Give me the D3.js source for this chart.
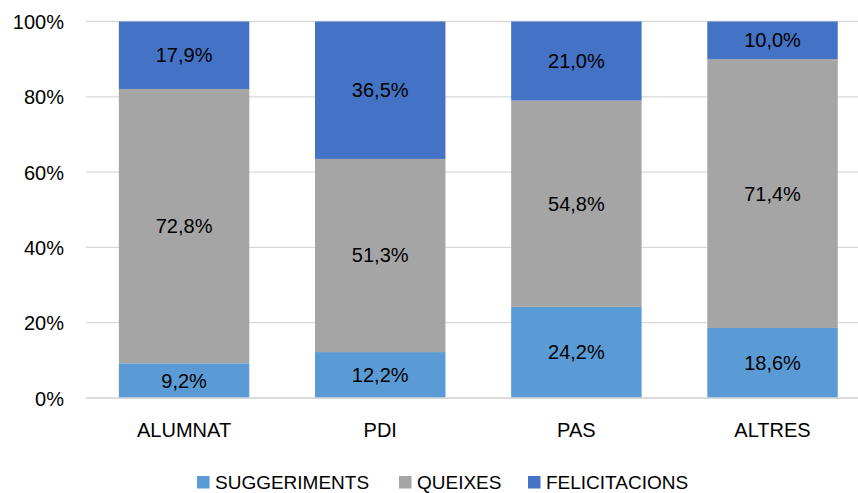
<!DOCTYPE html>
<html><head><meta charset="utf-8">
<script src="https://cdn.jsdelivr.net/npm/d3@7"></script>
<style>body{margin:0;background:#fff}svg{display:block}text{font-family:"Liberation Sans",Arial,sans-serif;fill:#000}</style>
</head><body><svg id="c" width="858" height="493"></svg>
<script>
const categories = ["ALUMNAT","PDI","PAS","ALTRES"];
const seriesNames = ["SUGGERIMENTS","QUEIXES","FELICITACIONS"];
const suggeriments = [9.2,12.2,24.2,18.6];
const queixes = [72.8,51.3,54.8,71.4];
const felicitacions = [17.9,36.5,21.0,10.0];
const yTicks = [0,20,40,60,80,100];
const colors = ["#5B9BD5","#A5A5A5","#4472C4"];

const svg = d3.select("#c");
const x = d3.scaleBand().domain(categories).range([86,870.6]).paddingInner(0.335).paddingOuter(0.1675);
const y = d3.scaleLinear().domain([0,100]).range([398,21.5]);

svg.append("g").selectAll("line").data(yTicks).join("line")
  .attr("x1",86).attr("x2",870).attr("y1",d=>y(d)).attr("y2",d=>y(d))
  .attr("stroke","#D9D9D9").attr("stroke-width",1.3);

const yAxis = svg.append("g").attr("transform","translate(86,0)")
  .call(d3.axisLeft(y).tickValues(yTicks).tickFormat(d=>d+"%").tickSize(0).tickPadding(22));
yAxis.select(".domain").remove();
yAxis.selectAll("text").style("font-size","20px").attr("dy","0.35em");

const rows = categories.map((c,i)=>{
  const vals=[suggeriments[i],queixes[i],felicitacions[i]];
  const tot=d3.sum(vals);
  const o={cat:c};
  seriesNames.forEach((s,j)=>{o[s]=vals[j]/tot*100; o[s+"_raw"]=vals[j];});
  return o;
});
const stack = d3.stack().keys(seriesNames)(rows);

const fmt = v => v.toFixed(1).replace(".",",")+"%";
stack.forEach((layer,j)=>{
  const g = svg.append("g");
  g.selectAll("rect").data(layer).join("rect")
    .attr("x",d=>x(d.data.cat)).attr("width",x.bandwidth())
    .attr("y",d=>y(d[1])).attr("height",d=>y(d[0])-y(d[1]))
    .attr("fill",colors[j]);
  g.selectAll("text").data(layer).join("text")
    .attr("x",d=>x(d.data.cat)+x.bandwidth()/2)
    .attr("y",d=>(y(d[0])+y(d[1]))/2)
    .attr("dy","0.35em").attr("text-anchor","middle").style("font-size","20px")
    .text(d=>fmt(d.data[layer.key+"_raw"]));
});

svg.append("line").attr("x1",86).attr("x2",870).attr("y1",y(0)).attr("y2",y(0))
  .attr("stroke","#D9D9D9").attr("stroke-width",1.3);

const xAxis = svg.append("g").attr("transform","translate(0,398)")
  .call(d3.axisBottom(x).tickSize(0).tickPadding(24.5));
xAxis.select(".domain").remove();
xAxis.selectAll("text").style("font-size","20px");

const legX = [197,399,528];
const leg = svg.append("g");
seriesNames.forEach((s,j)=>{
  leg.append("rect").attr("x",legX[j]).attr("y",476).attr("width",12.5).attr("height",12.5).attr("fill",colors[j]);
  leg.append("text").attr("x",legX[j]+18).attr("y",489).style("font-size","19px").text(s);
});
</script></body></html>
